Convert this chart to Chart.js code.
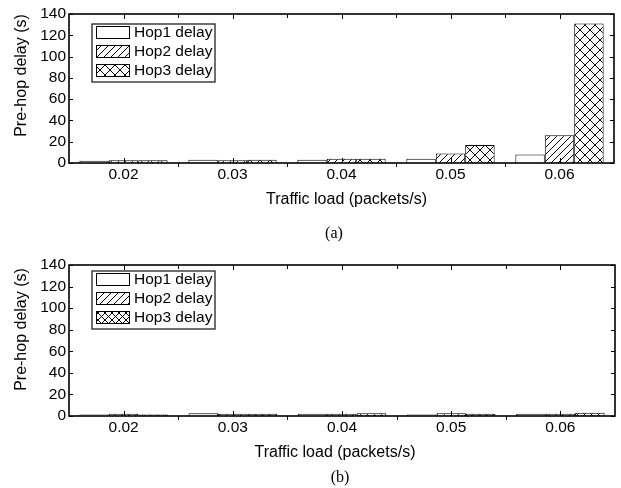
<!DOCTYPE html>
<html><head><meta charset="utf-8">
<script src="https://cdn.jsdelivr.net/npm/chart.js@4"></script>
<style>
body{margin:0;background:#fff;width:621px;height:488px;position:relative;overflow:hidden}
.c{position:absolute;left:0;width:621px}
#wa{top:0;height:250px}
#wb{top:250px;height:238px}
.cap{position:absolute;font-family:"Liberation Serif","Times New Roman",serif;font-size:16px;color:#000;transform:translate(-50%,-50%);line-height:18px;white-space:nowrap}
</style></head><body>
<div id="wa" class="c"><canvas id="ca"></canvas></div>
<div id="wb" class="c"><canvas id="cb"></canvas></div>
<div class="cap" style="left:334px;top:233px">(a)</div>
<div class="cap" style="left:340px;top:477px">(b)</div>
<script>
const categories = ['0.02','0.03','0.04','0.05','0.06'];
const seriesLabels = ['Hop1 delay','Hop2 delay','Hop3 delay'];
const hop1A = [2, 3, 3, 4, 8];
const hop2A = [2.5, 2.5, 4, 9, 26];
const hop3A = [2.5, 3, 4, 17, 131];
const hop1B = [1.5, 2.5, 2, 1.5, 2];
const hop2B = [2, 2, 2, 2.5, 2];
const hop3B = [1.5, 2, 2.5, 2, 3];
const yTicks = [0, 20, 40, 60, 80, 100, 120, 140];
const xTitle = 'Traffic load (packets/s)';
const yTitle = 'Pre-hop delay (s)';

const FONT = '"Liberation Sans", Arial, sans-serif';

function makeDiag(){
  const s = 7, c = document.createElement('canvas');
  c.width = s; c.height = s;
  const g = c.getContext('2d');
  g.fillStyle = '#fff'; g.fillRect(0,0,s,s);
  g.strokeStyle = '#000'; g.lineWidth = 1;
  g.beginPath();
  g.moveTo(-1, s+1); g.lineTo(s+1, -1);
  g.moveTo(-1, 1); g.lineTo(1, -1);
  g.moveTo(s-1, s+1); g.lineTo(s+1, s-1);
  g.stroke();
  return g.createPattern(c, 'repeat');
}
function makeCross(s){
  const c = document.createElement('canvas');
  c.width = s; c.height = s;
  const g = c.getContext('2d');
  g.fillStyle = '#fff'; g.fillRect(0,0,s,s);
  g.strokeStyle = '#000'; g.lineWidth = 1;
  g.beginPath();
  g.moveTo(-1, s+1); g.lineTo(s+1, -1);
  g.moveTo(-1, -1); g.lineTo(s+1, s+1);
  g.stroke();
  return g.createPattern(c, 'repeat');
}

const framePlugin = {
  id: 'frame',
  afterDatasetsDraw(chart, args, opts){
    const {ctx, chartArea: a, scales: {x, y}} = chart;
    ctx.save();
    ctx.strokeStyle = '#000';
    ctx.lineWidth = 1.6;
    ctx.strokeRect(a.left, a.top, a.right - a.left, a.bottom - a.top);
    ctx.lineWidth = 1;
    ctx.beginPath();
    y.ticks.forEach(t => {
      const py = Math.round(y.getPixelForValue(t.value)) + 0.5;
      ctx.moveTo(a.left, py); ctx.lineTo(a.left + 4, py);
      ctx.moveTo(a.right, py); ctx.lineTo(a.right - 4, py);
    });
    x.ticks.forEach((t, i) => {
      const px = Math.round(x.getPixelForTick(i)) + 0.5;
      ctx.moveTo(px, a.top); ctx.lineTo(px, a.top + 5);
      ctx.moveTo(px, a.bottom); ctx.lineTo(px, a.bottom - 5);
    });
    for (let i = 1; i < x.ticks.length; i++){
      const px = Math.round((x.getPixelForTick(i-1) + x.getPixelForTick(i)) / 2) + 0.5;
      ctx.moveTo(px, a.top); ctx.lineTo(px, a.top + 4);
      ctx.moveTo(px, a.bottom); ctx.lineTo(px, a.bottom + 4);
    }
    ctx.stroke();
    // axis titles
    ctx.fillStyle = '#000';
    ctx.font = '16px ' + FONT;
    ctx.textAlign = 'center';
    ctx.textBaseline = 'alphabetic';
    ctx.fillText(xTitle, (a.left + a.right) / 2 + opts.xdx, a.bottom + 40.5);
    ctx.save();
    ctx.translate(a.left - 47, (a.top + a.bottom) / 2 + opts.ydy);
    ctx.rotate(-Math.PI / 2);
    ctx.textBaseline = 'middle';
    ctx.fillText(yTitle, 0, 0);
    ctx.restore();
    // legend
    const bx = a.left + opts.lx, by = a.top + opts.ly, bw = 123, bh = 58;
    ctx.fillStyle = '#fff';
    ctx.fillRect(bx, by, bw, bh);
    ctx.lineWidth = 1.3;
    ctx.strokeStyle = '#222';
    ctx.strokeRect(bx, by, bw, bh);
    ctx.font = '15.5px ' + FONT;
    ctx.textAlign = 'left';
    ctx.textBaseline = 'middle';
    chart.data.datasets.forEach((ds, i) => {
      const sy = Math.round(by + 2 + i * 19);
      ctx.fillStyle = ds.backgroundColor;
      ctx.fillRect(bx + 4, sy, 33, 12);
      ctx.lineWidth = 1;
      ctx.strokeStyle = '#000';
      ctx.strokeRect(bx + 4.5, sy + 0.5, 33, 12);
      ctx.fillStyle = '#000';
      ctx.fillText(ds.label, bx + 42, sy + 7);
    });
    ctx.restore();
  }
};

function build(id, d1, d2, d3, pad, crossSize, frameOpts){
  const patterns = ['#ffffff', makeDiag(), makeCross(crossSize)];
  const data = [d1, d2, d3];
  return new Chart(document.getElementById(id), {
    type: 'bar',
    data: {
      labels: categories,
      datasets: seriesLabels.map((l, i) => ({
        label: l,
        data: data[i],
        backgroundColor: patterns[i],
        borderColor: '#000',
        borderWidth: 1,
        barPercentage: 1,
        categoryPercentage: 0.81
      }))
    },
    options: {
      responsive: true,
      maintainAspectRatio: false,
      animation: false,
      events: [],
      layout: { padding: pad },
      plugins: { legend: { display: false }, tooltip: { enabled: false }, frame: frameOpts },
      scales: {
        x: {
          afterFit(s){ s.height = 45; },
          grid: { display: false, drawTicks: false },
          border: { display: false },
          ticks: { color: '#000', font: { family: FONT, size: 15.5 }, padding: 2 }
        },
        y: {
          min: 0, max: 140,
          afterBuildTicks(s){ s.ticks = yTicks.map(v => ({ value: v })); },
          afterFit(s){ s.width = 69 - pad.left; },
          grid: { display: false, drawTicks: false },
          border: { display: false },
          ticks: { color: '#000', autoSkip: false, font: { family: FONT, size: 15.5 }, padding: 3 }
        }
      }
    },
    plugins: [framePlugin]
  });
}

build('ca', hop1A, hop2A, hop3A, { left: 30, right: 7, top: 14, bottom: 42 }, 10,
      { xdx: 5, ydy: -13, lx: 23, ly: 10 });
build('cb', hop1B, hop2B, hop3B, { left: 31, right: 6, top: 15, bottom: 27 }, 7,
      { xdx: -7, ydy: -11, lx: 23, ly: 6 });
</script>
</body></html>
